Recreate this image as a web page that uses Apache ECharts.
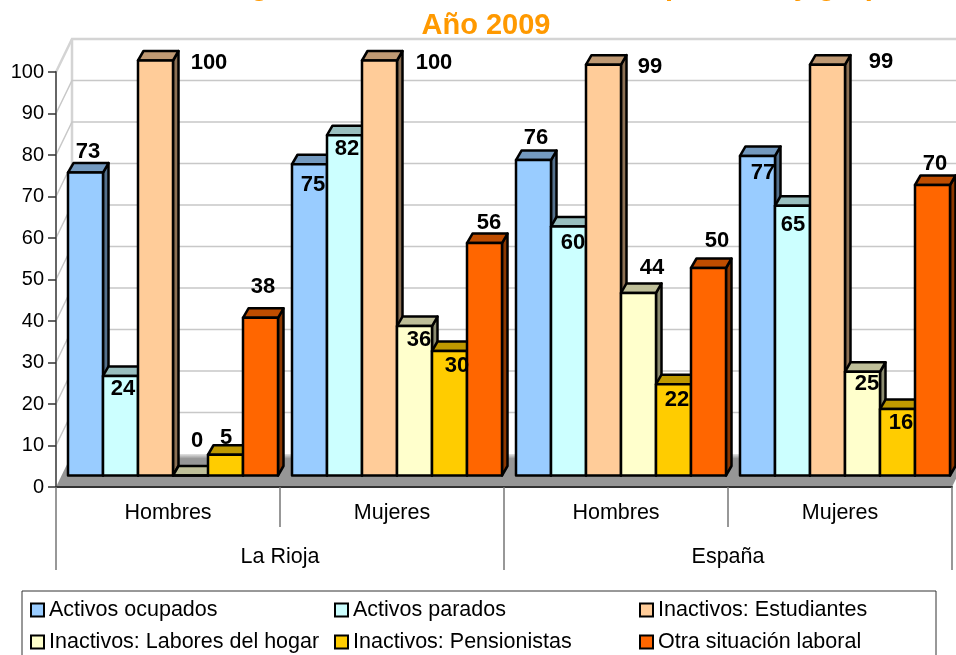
<!DOCTYPE html>
<html><head><meta charset="utf-8">
<style>html,body{margin:0;padding:0;background:#fff;overflow:hidden}#c{width:956px;height:655px}</style>
<script src="https://cdn.jsdelivr.net/npm/echarts@6/dist/echarts.min.js"></script>
</head><body><div id="c"></div>
<script>
const categories = ['Hombres','Mujeres','Hombres','Mujeres'];
const regions = ['La Rioja','España'];
const yTicks = [0,10,20,30,40,50,60,70,80,90,100];
const seriesNames = ['Activos ocupados','Activos parados','Inactivos: Estudiantes','Inactivos: Labores del hogar','Inactivos: Pensionistas','Otra situación laboral'];
const activosOcupados = [73,75,76,77];
const activosParados = [24,82,60,65];
const estudiantes = [100,100,99,99];
const labores = [0,36,44,25];
const pensionistas = [5,30,22,16];
const otraSituacion = [38,56,50,70];
const seriesValues = [activosOcupados,activosParados,estudiantes,labores,pensionistas,otraSituacion];
const colors = ['#99CCFF','#CCFFFF','#FFCC99','#FFFFCC','#FFCC00','#FF6600'];
// hand-placed data-label nudges from the original chart (series x category), relative to the bar's top centre
const labelNudge = [
 [[2.5,-21],[3.5,21],[2.5,-22],[5.5,17]],
 [[2.5,13],[2.5,14],[4.5,16.5],[0.5,19]],
 [[53.5,2.5],[54.5,2.5],[46.5,2.5],[53.5,-2.5]],
 [[6.5,-34.5],[4.5,14],[13.5,-25],[4.5,12]],
 [[0.5,-17],[7.5,15],[3.5,16],[3.5,14]],
 [[2.5,-31],[4.5,-20],[8.5,-27],[2.5,-21]]
];
const FONT = '"Liberation Sans", Arial, sans-serif';
const WALL = {dx:16, dy:-33}, BAR = {dx:5.5, dy:-9.5, lift:11.5};
function shade(hex,f){const n=parseInt(hex.slice(1),16);
  return 'rgb('+[(n>>16)&255,(n>>8)&255,n&255].map(c=>Math.round(c*f)).join(',')+')';}

function wallItem(params,api){
  const cs=params.coordSys, v=api.value(0), y=api.coord([0,v])[1];
  const x0=cs.x, x1=cs.x+cs.width, bx=x0+WALL.dx, by=y+WALL.dy;
  const kids=[];
  if(v===0){
    kids.push({type:'polygon',shape:{points:[[x0,y],[bx,by],[x1+WALL.dx,by],[x1,y]]},
      style:{fill:new echarts.graphic.LinearGradient(0,0,0,1,[{offset:0,color:'#e4e4e4'},{offset:0.14,color:'#969696'},{offset:1,color:'#969696'}])},z2:1});
    const top=api.coord([0,100])[1]+WALL.dy;
    kids.push({type:'line',shape:{x1:bx,y1:top,x2:bx,y2:by},style:{stroke:'#d4d4d4',lineWidth:2.5},z2:0});
  } else {
    const top=v===100;
    kids.push({type:'polyline',shape:{points:[[x0,y],[bx,by],[x1+WALL.dx,by]]},
      style:{fill:null,stroke:top?'#d4d4d4':'#c8c8c8',lineWidth:top?2.5:1.5},z2:0});
  }
  return {type:'group',children:kids};
}
function barItem(s){return function(params,api){
  const idx=api.value(0), v=api.value(1);
  const c=api.coord([idx,v]), b=api.coord([idx,0]), band=api.size([1,0])[0];
  const w=band/6.4, x=c[0]-band*100/224+s*w, yT=c[1]-BAR.lift, yB=b[1]-BAR.lift;
  const xR=x+w, d=BAR.dx, e=BAR.dy, z=10+s*2;
  const line={stroke:'#000',lineWidth:2.5,lineJoin:'round'};
  const col=colors[s], nudge=labelNudge[s][idx];
  const kids=[
    {type:'polygon',shape:{points:[[xR,yT],[xR+d,yT+e],[xR+d,yB+e],[xR,yB]]},style:Object.assign({fill:shade(col,.55)},line),z2:z},
    {type:'polygon',shape:{points:[[x,yT],[x+d,yT+e],[xR+d,yT+e],[xR,yT]]},style:Object.assign({fill:shade(col,.75)},line),z2:z},
    {type:'rect',shape:{x:x,y:yT,width:w,height:yB-yT},style:Object.assign({fill:col},line),z2:z+1},
    {type:'text',style:{text:String(v),x:x+w/2+nudge[0],y:yT+nudge[1],align:'center',verticalAlign:'middle',
      fill:'#000',font:'bold 22px '+FONT},z2:100}
  ];
  return {type:'group',children:kids};
};}

const barSeries=seriesNames.map((name,s)=>({
  name,type:'custom',xAxisIndex:0,yAxisIndex:0,clip:false,
  itemStyle:{color:colors[s],borderColor:'#000',borderWidth:2.5},
  encode:{x:0,y:1},
  data:seriesValues[s].map((v,i)=>[i,v]),
  renderItem:barItem(s)
}));
const wallSeries={type:'custom',silent:true,clip:false,xAxisIndex:0,yAxisIndex:0,legendHoverLink:false,
  encode:{y:0},data:yTicks.map(v=>[v]),renderItem:wallItem,z:1};

const legendBase={orient:'vertical',top:599,height:80,padding:0,itemWidth:13,itemHeight:13,itemGap:10,selectedMode:false,icon:'rect',
  textStyle:{fontFamily:FONT,fontSize:21.5,color:'#000'}};
const titleStyle={fontFamily:FONT,fontSize:29,fontWeight:'bold',color:'#FF9900'};
const option={
  animation:false,backgroundColor:'#fff',
  title:[
    {text:'Población según relación con la actividad, por sexo y grupo',left:486,textAlign:'center',top:-28,padding:0,textStyle:titleStyle},
    {text:'Año 2009',left:486,textAlign:'center',top:11,padding:0,textStyle:titleStyle}
  ],
  grid:{left:56,right:4,top:72,bottom:168,containLabel:false},
  legend:[
    Object.assign({left:30,data:[seriesNames[0],seriesNames[3]]},legendBase),
    Object.assign({left:334,data:[seriesNames[1],seriesNames[4]]},legendBase),
    Object.assign({left:639,data:[seriesNames[2],seriesNames[5]]},legendBase)
  ],
  xAxis:[
    {type:'category',data:categories,position:'bottom',z:5,
      axisLine:{show:true,lineStyle:{color:'#333',width:2}},
      axisTick:{show:true,length:40,lineStyle:{color:'#777',width:1.5}},
      axisLabel:{interval:0,margin:15,fontFamily:FONT,fontSize:21.5,color:'#000'}},
    {type:'category',data:regions,position:'bottom',z:5,
      axisLine:{show:false},
      axisTick:{show:true,length:83,lineStyle:{color:'#777',width:1.5}},
      axisLabel:{interval:0,margin:59,fontFamily:FONT,fontSize:21.5,color:'#000'}}
  ],
  yAxis:{type:'value',min:0,max:100,interval:10,z:5,
    axisLine:{show:true,lineStyle:{color:'#666',width:2}},
    axisTick:{show:true,length:8,lineStyle:{color:'#333',width:1.5}},
    axisLabel:{margin:12,fontFamily:FONT,fontSize:20,color:'#000'},
    splitLine:{show:false}},
  graphic:[{type:'rect',silent:true,z:-1,shape:{x:22,y:591,width:914,height:80},style:{fill:'#fff',stroke:'#333',lineWidth:1}}],
  series:[wallSeries].concat(barSeries)
};
echarts.init(document.getElementById('c'),null,{renderer:'canvas'}).setOption(option);
</script></body></html>
